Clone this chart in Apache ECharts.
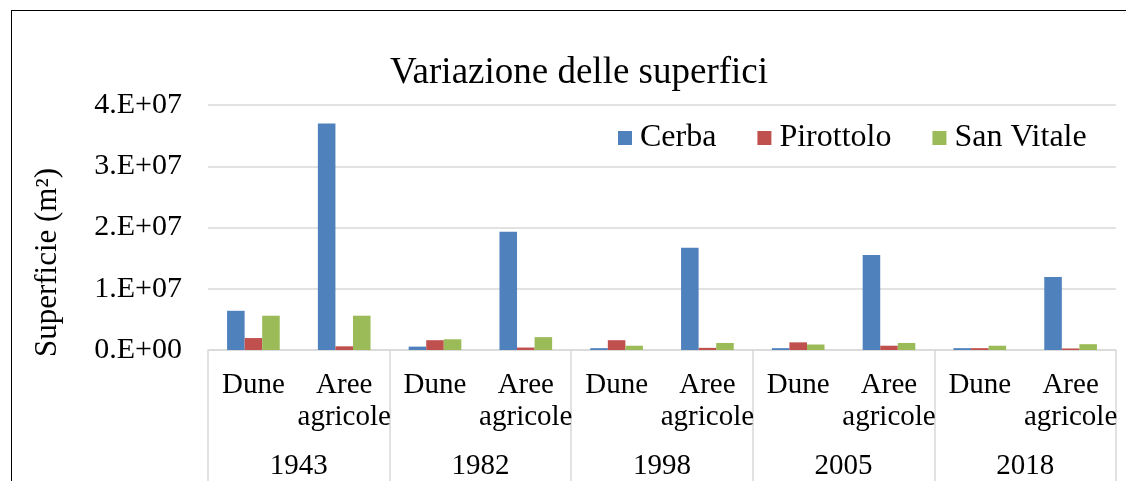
<!DOCTYPE html>
<html>
<head>
<meta charset="utf-8">
<script src="https://cdn.jsdelivr.net/npm/echarts@6/dist/echarts.min.js"></script>
<style>
	html, body {
		margin: 0;
		padding: 0;
		background: #fff;
	}
	#frame {
		position: absolute;
		left: 11px;
		top: 10px;
		width: 1115px;
		height: 471px;
		border-left: 1px solid #000;
		border-top: 1px solid #000;
	}
	#main {
		position: absolute;
		left: 0;
		top: 0;
		width: 1126px;
		height: 481px;
	}
</style>
</head>
<body>
<div id="frame"></div>
<div id="main"></div>
<script>
	// anni e tipi di area (asse x a due livelli)
	var years = ['1943', '1982', '1998', '2005', '2018'];
	var areaTypes = ['Dune', 'Aree\nagricole'];

	// superfici in m2, ordine: 1943 Dune, 1943 Aree agricole, 1982 Dune, ...
	var cerba     = [6.4e6, 37.0e6, 0.55e6, 19.3e6, 0.3e6, 16.7e6, 0.3e6, 15.5e6, 0.3e6, 11.9e6];
	var pirottolo = [1.95e6, 0.6e6, 1.6e6, 0.4e6, 1.6e6, 0.35e6, 1.25e6, 0.7e6, 0.3e6, 0.25e6];
	var sanVitale = [5.6e6, 5.6e6, 1.75e6, 2.1e6, 0.7e6, 1.15e6, 0.9e6, 1.15e6, 0.7e6, 0.95e6];

	var yTicks = [0, 1e7, 2e7, 3e7, 4e7];

	var categories = [];
	years.forEach(function () {
		areaTypes.forEach(function (t) { categories.push(t); });
	});

	var font = 'Liberation Serif';
	var gridColor = '#d9d9d9';

	function sciLabel(v) {
		if (v === 0) return '0.E+00';
		var exp = Math.floor(Math.log10(v));
		var m = Math.round(v / Math.pow(10, exp));
		return m + '.E+' + (exp < 10 ? '0' : '') + exp;
	}

	var myChart = echarts.init(document.getElementById('main'));
	myChart.setOption({
		animation: false,
		textStyle: { fontFamily: font, color: '#000' },
		title: {
			text: 'Variazione delle superfici',
			left: 385,
			top: 50,
			textStyle: { fontFamily: font, fontSize: 37, fontWeight: 'normal', color: '#000' }
		},
		legend: {
			left: 613,
			top: 117,
			itemWidth: 14,
			itemHeight: 14,
			itemGap: 41,
			icon: 'rect',
			textStyle: { fontFamily: font, fontSize: 32, color: '#000', padding: [0, 0, 0, 3] },
			data: ['Cerba', 'Pirottolo', 'San Vitale']
		},
		grid: {
			left: 208,
			right: 10,
			top: 105,
			bottom: 130
		},
		xAxis: [
			{
				type: 'category',
				data: categories,
				position: 'bottom',
				axisLine: { show: true, lineStyle: { color: gridColor, width: 1.5 } },
				axisTick: { show: false },
				axisLabel: {
					interval: 0,
					margin: 19,
					fontFamily: font,
					fontSize: 29,
					lineHeight: 32,
					color: '#000'
				},
				splitLine: { show: false }
			},
			{
				type: 'category',
				data: years,
				position: 'bottom',
				axisLine: { show: false },
				axisTick: { show: true, length: 135, lineStyle: { color: gridColor, width: 1.5 } },
				axisLabel: {
					interval: 0,
					margin: 102,
					fontFamily: font,
					fontSize: 29,
					color: '#000'
				},
				splitLine: { show: false }
			}
		],
		yAxis: {
			type: 'value',
			min: yTicks[0],
			max: yTicks[yTicks.length - 1],
			interval: yTicks[1] - yTicks[0],
			name: 'Superficie (m²)',
			nameLocation: 'middle',
			nameRotate: 90,
			nameGap: 145,
			nameTextStyle: { fontFamily: font, fontSize: 31, color: '#000', padding: [0, 70, 0, 0] },
			axisLine: { show: false },
			axisTick: { show: false },
			axisLabel: {
				margin: 26,
				fontFamily: font,
				fontSize: 30,
				color: '#000',
				formatter: sciLabel
			},
			splitLine: { lineStyle: { color: gridColor, width: 1.5 } }
		},
		series: [
			{ name: 'Cerba', type: 'bar', data: cerba, barGap: 0, barCategoryGap: '42%', itemStyle: { color: '#4f81bd' } },
			{ name: 'Pirottolo', type: 'bar', data: pirottolo, itemStyle: { color: '#c0504d' } },
			{ name: 'San Vitale', type: 'bar', data: sanVitale, itemStyle: { color: '#9bbb59' } }
		]
	});
</script>
</body>
</html>
